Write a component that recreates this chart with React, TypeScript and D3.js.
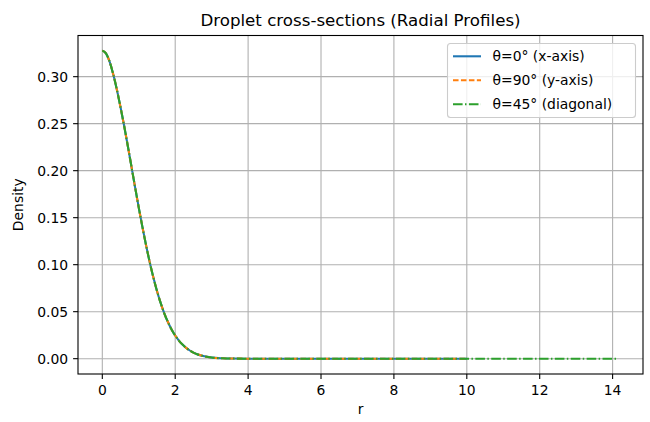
import React from "react";
import * as d3 from "d3";

// Radial density profile sampled along three directions through the droplet centre.
const radiusAxis = [
  0, 0.1, 0.2, 0.3, 0.4, 0.5, 0.6, 0.7, 0.8, 0.9, 1.0, 1.1, 1.2, 1.3, 1.4, 1.5, 1.6, 1.7, 1.8,
  1.9, 2.0, 2.1, 2.2, 2.3, 2.4, 2.5, 2.6, 2.8, 3.0, 3.3, 3.6, 4.0, 5, 6, 7, 8, 9, 10,
];
const densityX = [
  0.3277, 0.3248, 0.316, 0.3025, 0.286, 0.2675, 0.2475, 0.2262, 0.2042, 0.1822, 0.1607, 0.1402,
  0.1208, 0.1027, 0.0865, 0.072, 0.0593, 0.0483, 0.039, 0.0311, 0.0246, 0.0193, 0.015, 0.0115,
  0.0087, 0.0065, 0.0048, 0.0025, 0.0012, 0.0004, 0.0001, 0, 0, 0, 0, 0, 0, 0,
];
const densityY = [
  0.3277, 0.3248, 0.316, 0.3025, 0.286, 0.2675, 0.2475, 0.2262, 0.2042, 0.1822, 0.1607, 0.1402,
  0.1208, 0.1027, 0.0865, 0.072, 0.0593, 0.0483, 0.039, 0.0311, 0.0246, 0.0193, 0.015, 0.0115,
  0.0087, 0.0065, 0.0048, 0.0025, 0.0012, 0.0004, 0.0001, 0, 0, 0, 0, 0, 0, 0,
];
const radiusDiag = [
  0, 0.1, 0.2, 0.3, 0.4, 0.5, 0.6, 0.7, 0.8, 0.9, 1.0, 1.1, 1.2, 1.3, 1.4, 1.5, 1.6, 1.7, 1.8,
  1.9, 2.0, 2.1, 2.2, 2.3, 2.4, 2.5, 2.6, 2.8, 3.0, 3.3, 3.6, 4.0, 5, 6, 7, 8, 9, 10, 11, 12, 13,
  14.14,
];
const densityDiag = [
  0.3277, 0.3248, 0.316, 0.3025, 0.286, 0.2675, 0.2475, 0.2262, 0.2042, 0.1822, 0.1607, 0.1402,
  0.1208, 0.1027, 0.0865, 0.072, 0.0593, 0.0483, 0.039, 0.0311, 0.0246, 0.0193, 0.015, 0.0115,
  0.0087, 0.0065, 0.0048, 0.0025, 0.0012, 0.0004, 0.0001, 0, 0, 0, 0, 0, 0, 0, 0, 0, 0, 0,
];

const xTicks = [0, 2, 4, 6, 8, 10, 12, 14];
const yTicks = [0, 0.05, 0.1, 0.15, 0.2, 0.25, 0.3];

const seriesLabels = ["θ=0° (x-axis)", "θ=90° (y-axis)", "θ=45° (diagonal)"];
const seriesColors = ["#1f77b4", "#ff7f0e", "#2ca02c"];
const seriesDash = ["", "5.55,2.4", "9.6,2.4,1.5,2.4"];

const W = 650;
const H = 422;
const L = 78;
const R = 643;
const T = 35.5;
const B = 374;
const FONT = "'DejaVu Sans', sans-serif";

export default function App() {
  const x = d3.scaleLinear().domain([-0.667, 14.834]).range([L, R]);
  const y = d3.scaleLinear().domain([-0.0163, 0.3438]).range([B, T]);

  const line = d3
    .line<[number, number]>()
    .x((d) => x(d[0]))
    .y((d) => y(d[1]))
    .curve(d3.curveMonotoneX);

  const series = [
    radiusAxis.map((r, i) => [r, densityX[i]] as [number, number]),
    radiusAxis.map((r, i) => [r, densityY[i]] as [number, number]),
    radiusDiag.map((r, i) => [r, densityDiag[i]] as [number, number]),
  ];

  const legX = 447.5;
  const legY = 43.5;
  const legW = 188;
  const legH = 74;

  return (
    <svg
      width={W}
      height={H}
      style={{ position: "absolute", left: 0, top: 0, background: "#fff" }}
      fontFamily={FONT}
    >
      <rect x={0} y={0} width={W} height={H} fill="#fff" />
      <defs>
        <clipPath id="plot-area">
          <rect x={L} y={T} width={R - L} height={B - T} />
        </clipPath>
      </defs>

      {/* grid */}
      <g stroke="#b0b0b0" strokeWidth={1.1}>
        {xTicks.map((t) => (
          <line key={"gx" + t} x1={x(t)} x2={x(t)} y1={T} y2={B} />
        ))}
        {yTicks.map((t) => (
          <line key={"gy" + t} x1={L} x2={R} y1={y(t)} y2={y(t)} />
        ))}
      </g>

      {/* profiles */}
      <g clipPath="url(#plot-area)" fill="none">
        {series.map((s, i) => (
          <path
            key={i}
            d={line(s) || ""}
            stroke={seriesColors[i]}
            strokeWidth={2.08}
            strokeDasharray={seriesDash[i] || undefined}
          />
        ))}
      </g>

      {/* spines */}
      <rect x={L} y={T} width={R - L} height={B - T} fill="none" stroke="#000" strokeWidth={1.1} />

      {/* ticks and tick labels */}
      <g fontSize={13.9} fill="#000">
        {xTicks.map((t) => (
          <g key={"xt" + t}>
            <line x1={x(t)} x2={x(t)} y1={B} y2={B + 4.9} stroke="#000" strokeWidth={1.1} />
            <text x={x(t)} y={B + 21} textAnchor="middle">
              {d3.format("d")(t)}
            </text>
          </g>
        ))}
        {yTicks.map((t) => (
          <g key={"yt" + t}>
            <line x1={L - 4.9} x2={L} y1={y(t)} y2={y(t)} stroke="#000" strokeWidth={1.1} />
            <text x={L - 9.8} y={y(t)} dy="0.35em" textAnchor="end">
              {d3.format(".2f")(t)}
            </text>
          </g>
        ))}
      </g>

      {/* axis labels */}
      <text x={(L + R) / 2} y={414} textAnchor="middle" fontSize={13.9}>
        r
      </text>
      <text
        transform={`translate(23,${(T + B) / 2}) rotate(-90)`}
        textAnchor="middle"
        fontSize={13.9}
      >
        Density
      </text>

      {/* title */}
      <text x={(L + R) / 2} y={26} textAnchor="middle" fontSize={16.67}>
        Droplet cross-sections (Radial Profiles)
      </text>

      {/* legend */}
      <g>
        <rect
          x={legX}
          y={legY}
          width={legW}
          height={legH}
          rx={3}
          fill="#fff"
          fillOpacity={0.8}
          stroke="#cccccc"
          strokeWidth={1.1}
        />
        {seriesLabels.map((label, i) => {
          const cy = legY + 12.8 + i * 24;
          return (
            <g key={label}>
              <line
                x1={legX + 5.5}
                x2={legX + 33.5}
                y1={cy}
                y2={cy}
                stroke={seriesColors[i]}
                strokeWidth={2.08}
                strokeDasharray={seriesDash[i] || undefined}
              />
              <text x={legX + 45} y={cy} dy="0.35em" fontSize={13.9}>
                {label}
              </text>
            </g>
          );
        })}
      </g>
    </svg>
  );
}
